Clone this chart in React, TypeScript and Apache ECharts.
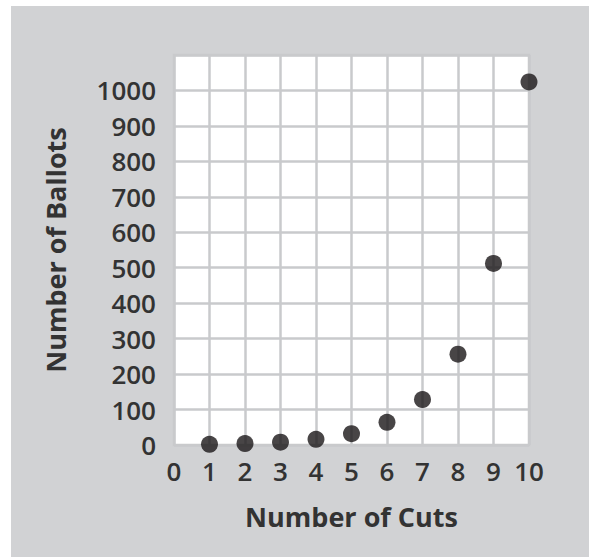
import React, { useEffect, useRef } from "react";
import * as echarts from "echarts";

const cuts = [1, 2, 3, 4, 5, 6, 7, 8, 9, 10];
const ballots = [2, 4, 8, 16, 32, 64, 128, 256, 512, 1024];
const yTicksShown = [0, 100, 200, 300, 400, 500, 600, 700, 800, 900, 1000];
const xTitle = "Number of Cuts";
const yTitle = "Number of Ballots";

export default function App() {
  const ref = useRef<HTMLDivElement>(null);
  useEffect(() => {
    if (!ref.current) return;
    const chart = echarts.init(ref.current, null, { renderer: "svg" });
    const gridColor = "#c9cacc";
    const font = "'Open Sans', 'Noto Sans', sans-serif";
    const textColor = "#333333";
    chart.setOption({
      animation: false,
      backgroundColor: "#ffffff",
      graphic: [
        {
          type: "rect",
          z: -10,
          silent: true,
          shape: { x: 11, y: 6, width: 578, height: 551 },
          style: { fill: "#d1d2d4" },
        },
      ],
      grid: {
        left: 174,
        top: 55,
        right: 60,
        bottom: 112,
        show: true,
        backgroundColor: "#ffffff",
        borderColor: gridColor,
        borderWidth: 2.5,
      },
      xAxis: {
        type: "value",
        min: 0,
        max: 10,
        interval: 1,
        name: xTitle,
        nameLocation: "middle",
        nameGap: 58,
        nameTextStyle: { fontFamily: font, fontSize: 27, fontWeight: "bold", color: textColor },
        axisLine: { show: false },
        axisTick: { show: false },
        axisLabel: { fontFamily: font, fontSize: 26, fontWeight: 600, color: textColor, margin: 13 },
        splitLine: { show: true, lineStyle: { color: gridColor, width: 2.5 } },
      },
      yAxis: {
        type: "value",
        min: 0,
        max: 1100,
        interval: 100,
        name: yTitle,
        nameLocation: "middle",
        nameGap: 105,
        nameTextStyle: { fontFamily: font, fontSize: 27, fontWeight: "bold", color: textColor },
        axisLine: { show: false },
        axisTick: { show: false },
        axisLabel: {
          fontFamily: font,
          fontSize: 26,
          fontWeight: 600,
          color: textColor,
          margin: 18,
          formatter: (v: number) => (yTicksShown.includes(v) ? String(v) : ""),
        },
        splitLine: { show: true, lineStyle: { color: gridColor, width: 2.5 } },
      },
      series: [
        {
          type: "scatter",
          data: cuts.map((c, i) => [c, ballots[i]]),
          symbol: "circle",
          symbolSize: 17,
          itemStyle: { color: "#1a1718" },
        },
      ],
    });
    return () => chart.dispose();
  }, []);
  return (
    <div
      ref={ref}
      style={{ position: "fixed", left: 0, top: 0, width: 589, height: 557 }}
    />
  );
}
